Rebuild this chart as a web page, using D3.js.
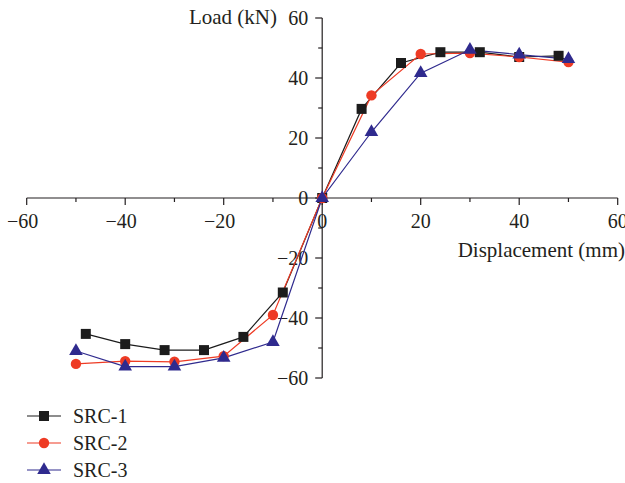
<!DOCTYPE html>
<meta charset="utf-8">
<script src="https://d3js.org/d3.v7.min.js"></script>
<style>
  body { margin: 0; background: #fff; }
  text { font-family: "Liberation Serif", "Times New Roman", serif; fill: #231f20; }
</style>
<div id="chart"></div>
<script>

// data
const src1X = [-48, -40, -32, -24, -16, -8, 0, 8, 16, 24, 32, 40, 48];
const src1Y = [-45.3, -48.7, -50.7, -50.7, -46.3, -31.5, 0, 29.7, 45, 48.6, 48.6, 47, 47.4];

const src2X = [-50, -40, -30, -20, -10, 0, 10, 20, 30, 40, 50];
const src2Y = [-55.3, -54.4, -54.6, -52.7, -39, 0, 34.2, 48, 48.3, 47, 45.3];

const src3X = [-50, -40, -30, -20, -10, 0, 10, 20, 30, 40, 50];
const src3Y = [-51, -56.2, -56.2, -53.3, -48, 0, 22, 41.6, 49.4, 47.8, 46.3];

const seriesNames = ["SRC-1", "SRC-2", "SRC-3"];
const xTicks = [-60, -40, -20, 0, 20, 40, 60];
const yTicks = [-60, -40, -20, 0, 20, 40, 60];

const colors = {"SRC-1": "#1c1c1c", "SRC-2": "#ee3b24", "SRC-3": "#2f2a8e"};
const shapes = {"SRC-1": d3.symbolSquare, "SRC-2": d3.symbolCircle, "SRC-3": d3.symbolTriangle};
const sizes = {"SRC-1": 100, "SRC-2": 85, "SRC-3": 80};

const series = [
  {name: "SRC-1", pts: src1X.map((x, i) => [x, src1Y[i]])},
  {name: "SRC-2", pts: src2X.map((x, i) => [x, src2Y[i]])},
  {name: "SRC-3", pts: src3X.map((x, i) => [x, src3Y[i]])}
];

const W = 625, H = 483;
const svg = d3.select("#chart").append("svg")
  .attr("width", W).attr("height", H);

const x = d3.scaleLinear().domain([-60, 60]).range([26.7, 617.7]);
const y = d3.scaleLinear().domain([-60, 60]).range([378, 18]);

// x axis through y = 0
const xAxis = svg.append("g")
  .attr("transform", "translate(0," + y(0) + ")");
xAxis.append("line")
  .attr("x1", x(-60)).attr("x2", x(60))
  .attr("stroke", "#231f20").attr("stroke-width", 1.2);
xAxis.selectAll(".minor").data(d3.range(-50, 60, 20)).enter().append("line")
  .attr("x1", d => x(d)).attr("x2", d => x(d))
  .attr("y1", 0).attr("y2", 4)
  .attr("stroke", "#231f20").attr("stroke-width", 1.2);
xAxis.selectAll(".major").data(xTicks).enter().append("line")
  .attr("x1", d => x(d)).attr("x2", d => x(d))
  .attr("y1", 0).attr("y2", 7)
  .attr("stroke", "#231f20").attr("stroke-width", 1.2);
xAxis.selectAll(".lab").data(xTicks).enter().append("text")
  .attr("x", d => x(d) + (d < 0 ? -4 : 0))
  .attr("y", 30)
  .attr("text-anchor", "middle")
  .attr("font-size", "20px")
  .text(d => d < 0 ? "\u2212" + Math.abs(d) : d);

// y axis through x = 0
const yAxis = svg.append("g")
  .attr("transform", "translate(" + x(0) + ",0)");
yAxis.append("line")
  .attr("y1", y(60)).attr("y2", y(-60))
  .attr("stroke", "#231f20").attr("stroke-width", 1.2);
yAxis.selectAll(".minor").data(d3.range(-50, 60, 20)).enter().append("line")
  .attr("y1", d => y(d)).attr("y2", d => y(d))
  .attr("x1", 0).attr("x2", -4)
  .attr("stroke", "#231f20").attr("stroke-width", 1.2);
yAxis.selectAll(".major").data(yTicks).enter().append("line")
  .attr("y1", d => y(d)).attr("y2", d => y(d))
  .attr("x1", 0).attr("x2", -7)
  .attr("stroke", "#231f20").attr("stroke-width", 1.2);
yAxis.selectAll(".lab").data(yTicks).enter().append("text")
  .attr("x", -14)
  .attr("y", d => y(d) + 7)
  .attr("text-anchor", "end")
  .attr("font-size", "20px")
  .text(d => d < 0 ? "\u2212" + Math.abs(d) : d);

svg.append("text")
  .attr("x", 277).attr("y", 24)
  .attr("text-anchor", "end")
  .attr("font-size", "21px")
  .text("Load (kN)");

svg.append("text")
  .attr("x", 625).attr("y", 257)
  .attr("text-anchor", "end")
  .attr("font-size", "21px")
  .text("Displacement (mm)");

// lines and markers
const line = d3.line().x(d => x(d[0])).y(d => y(d[1]));

series.forEach(s => {
  svg.append("path")
    .attr("d", line(s.pts))
    .attr("fill", "none")
    .attr("stroke", colors[s.name])
    .attr("stroke-width", 1.2);
});
series.forEach(s => {
  svg.selectAll(".m-" + s.name).data(s.pts).enter().append("path")
    .attr("transform", d => "translate(" + x(d[0]) + "," + y(d[1]) + ")")
    .attr("d", d3.symbol().type(shapes[s.name]).size(sizes[s.name]))
    .attr("fill", colors[s.name]);
});

// legend
const legend = svg.append("g");
seriesNames.forEach((name, i) => {
  const ly = 416 + i * 27;
  legend.append("line")
    .attr("x1", 27).attr("x2", 61)
    .attr("y1", ly).attr("y2", ly)
    .attr("stroke", colors[name]).attr("stroke-width", 1.2);
  legend.append("path")
    .attr("transform", "translate(44," + ly + ")")
    .attr("d", d3.symbol().type(shapes[name]).size(sizes[name]))
    .attr("fill", colors[name]);
  legend.append("text")
    .attr("x", 73).attr("y", ly + 7)
    .attr("font-size", "20px")
    .text(name);
});

</script>
